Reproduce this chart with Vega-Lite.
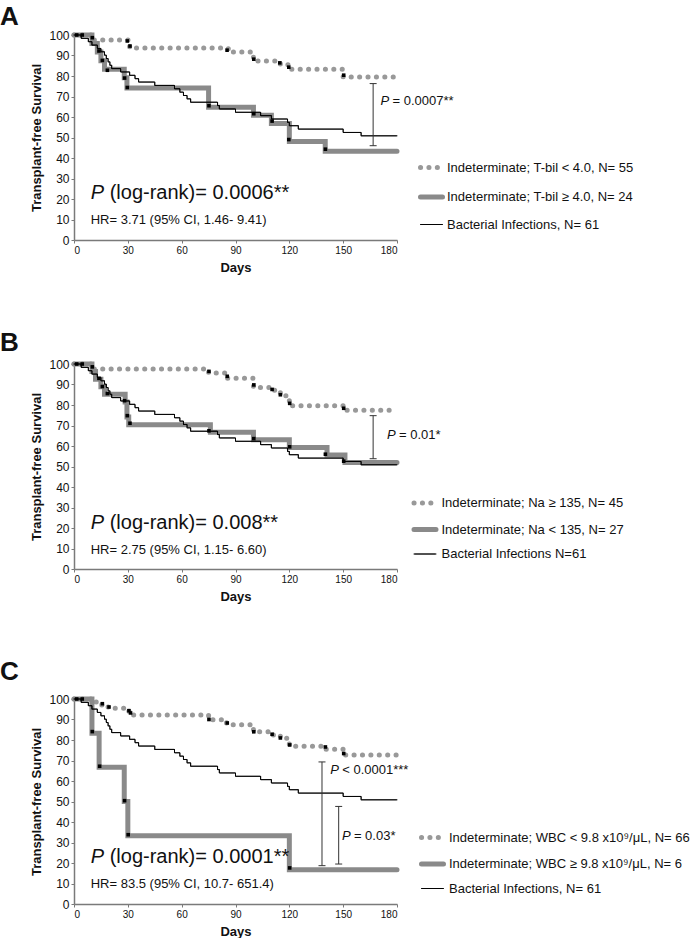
{
  "$schema": "https://vega.github.io/schema/vega-lite/v6.json",
  "padding": {"left": 0, "top": 4, "right": 0, "bottom": 0},
  "background": "white",
  "spacing": 56,
  "config": {
    "font": "Liberation Sans",
    "view": {"stroke": null},
    "axis": {"grid": false, "domainColor": "#7a7a7a", "domainWidth": 1.5, "tickColor": "#7a7a7a", "tickSize": 3, "tickWidth": 1, "labelColor": "#111", "labelFont": "Liberation Sans", "titleFont": "Liberation Sans", "titleFontWeight": "bold", "titleFontSize": 13, "titleColor": "#111", "labelPadding": 2, "labelOverlap": false},
    "axisX": {"labelFontSize": 10, "titlePadding": 6},
    "axisY": {"labelFontSize": 12, "titlePadding": 5, "labelOverlap": false, "labelFlush": false},
    "legend": {"labelFont": "Liberation Sans", "labelFontSize": 13, "labelColor": "#111", "symbolType": "stroke", "symbolSize": 484, "labelOffset": 2.5, "rowPadding": 2.5, "padding": 0, "labelLimit": 400},
    "title": {"font": "Liberation Sans", "fontSize": 26, "fontWeight": "bold", "color": "#111", "anchor": "start", "frame": "group"}
  },
  "datasets": {
    "curves": [
      {"panel": "A", "series": "Indeterminate; T-bil < 4.0, N= 55", "day": 0, "survival": 100},
      {"panel": "A", "series": "Indeterminate; T-bil < 4.0, N= 55", "day": 10, "survival": 97.6},
      {"panel": "A", "series": "Indeterminate; T-bil < 4.0, N= 55", "day": 31, "survival": 93.6},
      {"panel": "A", "series": "Indeterminate; T-bil < 4.0, N= 55", "day": 86, "survival": 91.7},
      {"panel": "A", "series": "Indeterminate; T-bil < 4.0, N= 55", "day": 100, "survival": 87.3},
      {"panel": "A", "series": "Indeterminate; T-bil < 4.0, N= 55", "day": 115, "survival": 85.5},
      {"panel": "A", "series": "Indeterminate; T-bil < 4.0, N= 55", "day": 120, "survival": 83.3},
      {"panel": "A", "series": "Indeterminate; T-bil < 4.0, N= 55", "day": 150, "survival": 79.5},
      {"panel": "A", "series": "Indeterminate; T-bil < 4.0, N= 55", "day": 180, "survival": 79.5},
      {"panel": "A", "series": "Indeterminate; T-bil ≥ 4.0, N= 24", "day": 0, "survival": 100},
      {"panel": "A", "series": "Indeterminate; T-bil ≥ 4.0, N= 24", "day": 10, "survival": 95.8},
      {"panel": "A", "series": "Indeterminate; T-bil ≥ 4.0, N= 24", "day": 13, "survival": 91.7},
      {"panel": "A", "series": "Indeterminate; T-bil ≥ 4.0, N= 24", "day": 15, "survival": 87.5},
      {"panel": "A", "series": "Indeterminate; T-bil ≥ 4.0, N= 24", "day": 17, "survival": 83.3},
      {"panel": "A", "series": "Indeterminate; T-bil ≥ 4.0, N= 24", "day": 28, "survival": 79.2},
      {"panel": "A", "series": "Indeterminate; T-bil ≥ 4.0, N= 24", "day": 29.5, "survival": 74.2},
      {"panel": "A", "series": "Indeterminate; T-bil ≥ 4.0, N= 24", "day": 75, "survival": 64.7},
      {"panel": "A", "series": "Indeterminate; T-bil ≥ 4.0, N= 24", "day": 100, "survival": 60.8},
      {"panel": "A", "series": "Indeterminate; T-bil ≥ 4.0, N= 24", "day": 110, "survival": 56.8},
      {"panel": "A", "series": "Indeterminate; T-bil ≥ 4.0, N= 24", "day": 120, "survival": 48.1},
      {"panel": "A", "series": "Indeterminate; T-bil ≥ 4.0, N= 24", "day": 140, "survival": 43.3},
      {"panel": "A", "series": "Indeterminate; T-bil ≥ 4.0, N= 24", "day": 180, "survival": 43.3},
      {"panel": "A", "series": "Bacterial Infections, N= 61", "day": 0, "survival": 100},
      {"panel": "A", "series": "Bacterial Infections, N= 61", "day": 4, "survival": 98.36},
      {"panel": "A", "series": "Bacterial Infections, N= 61", "day": 8, "survival": 96.72},
      {"panel": "A", "series": "Bacterial Infections, N= 61", "day": 10, "survival": 95.08},
      {"panel": "A", "series": "Bacterial Infections, N= 61", "day": 13, "survival": 93.44},
      {"panel": "A", "series": "Bacterial Infections, N= 61", "day": 15, "survival": 91.8},
      {"panel": "A", "series": "Bacterial Infections, N= 61", "day": 17, "survival": 90.16},
      {"panel": "A", "series": "Bacterial Infections, N= 61", "day": 18, "survival": 88.52},
      {"panel": "A", "series": "Bacterial Infections, N= 61", "day": 19, "survival": 86.89},
      {"panel": "A", "series": "Bacterial Infections, N= 61", "day": 20, "survival": 85.25},
      {"panel": "A", "series": "Bacterial Infections, N= 61", "day": 21, "survival": 83.61},
      {"panel": "A", "series": "Bacterial Infections, N= 61", "day": 26, "survival": 81.97},
      {"panel": "A", "series": "Bacterial Infections, N= 61", "day": 31, "survival": 80.33},
      {"panel": "A", "series": "Bacterial Infections, N= 61", "day": 34, "survival": 78.69},
      {"panel": "A", "series": "Bacterial Infections, N= 61", "day": 36, "survival": 77.05},
      {"panel": "A", "series": "Bacterial Infections, N= 61", "day": 45, "survival": 75.41},
      {"panel": "A", "series": "Bacterial Infections, N= 61", "day": 56, "survival": 73.77},
      {"panel": "A", "series": "Bacterial Infections, N= 61", "day": 59, "survival": 72.13},
      {"panel": "A", "series": "Bacterial Infections, N= 61", "day": 61, "survival": 70.49},
      {"panel": "A", "series": "Bacterial Infections, N= 61", "day": 63, "survival": 68.85},
      {"panel": "A", "series": "Bacterial Infections, N= 61", "day": 65, "survival": 67.21},
      {"panel": "A", "series": "Bacterial Infections, N= 61", "day": 80, "survival": 65.57},
      {"panel": "A", "series": "Bacterial Infections, N= 61", "day": 81, "survival": 63.93},
      {"panel": "A", "series": "Bacterial Infections, N= 61", "day": 90, "survival": 62.3},
      {"panel": "A", "series": "Bacterial Infections, N= 61", "day": 104, "survival": 60.66},
      {"panel": "A", "series": "Bacterial Infections, N= 61", "day": 110, "survival": 59.02},
      {"panel": "A", "series": "Bacterial Infections, N= 61", "day": 119, "survival": 57.38},
      {"panel": "A", "series": "Bacterial Infections, N= 61", "day": 120, "survival": 55.74},
      {"panel": "A", "series": "Bacterial Infections, N= 61", "day": 125, "survival": 54.1},
      {"panel": "A", "series": "Bacterial Infections, N= 61", "day": 150, "survival": 52.46},
      {"panel": "A", "series": "Bacterial Infections, N= 61", "day": 160, "survival": 50.82},
      {"panel": "A", "series": "Bacterial Infections, N= 61", "day": 180, "survival": 50.82},

      {"panel": "B", "series": "Indeterminate; Na ≥ 135, N= 45", "day": 0, "survival": 100},
      {"panel": "B", "series": "Indeterminate; Na ≥ 135, N= 45", "day": 10, "survival": 97.6},
      {"panel": "B", "series": "Indeterminate; Na ≥ 135, N= 45", "day": 75, "survival": 95.6},
      {"panel": "B", "series": "Indeterminate; Na ≥ 135, N= 45", "day": 85, "survival": 93.0},
      {"panel": "B", "series": "Indeterminate; Na ≥ 135, N= 45", "day": 100, "survival": 88.5},
      {"panel": "B", "series": "Indeterminate; Na ≥ 135, N= 45", "day": 110, "survival": 87.2},
      {"panel": "B", "series": "Indeterminate; Na ≥ 135, N= 45", "day": 115, "survival": 84.5},
      {"panel": "B", "series": "Indeterminate; Na ≥ 135, N= 45", "day": 120, "survival": 79.6},
      {"panel": "B", "series": "Indeterminate; Na ≥ 135, N= 45", "day": 150, "survival": 77.5},
      {"panel": "B", "series": "Indeterminate; Na ≥ 135, N= 45", "day": 180, "survival": 77.5},
      {"panel": "B", "series": "Indeterminate; Na < 135, N= 27", "day": 0, "survival": 100},
      {"panel": "B", "series": "Indeterminate; Na < 135, N= 27", "day": 10, "survival": 96.3},
      {"panel": "B", "series": "Indeterminate; Na < 135, N= 27", "day": 12, "survival": 92.6},
      {"panel": "B", "series": "Indeterminate; Na < 135, N= 27", "day": 15, "survival": 88.9},
      {"panel": "B", "series": "Indeterminate; Na < 135, N= 27", "day": 17, "survival": 85.2},
      {"panel": "B", "series": "Indeterminate; Na < 135, N= 27", "day": 28.5, "survival": 81.5},
      {"panel": "B", "series": "Indeterminate; Na < 135, N= 27", "day": 29.5, "survival": 74.1},
      {"panel": "B", "series": "Indeterminate; Na < 135, N= 27", "day": 30.5, "survival": 70.4},
      {"panel": "B", "series": "Indeterminate; Na < 135, N= 27", "day": 76, "survival": 66.7},
      {"panel": "B", "series": "Indeterminate; Na < 135, N= 27", "day": 100, "survival": 63.0},
      {"panel": "B", "series": "Indeterminate; Na < 135, N= 27", "day": 120, "survival": 59.3},
      {"panel": "B", "series": "Indeterminate; Na < 135, N= 27", "day": 141, "survival": 55.6},
      {"panel": "B", "series": "Indeterminate; Na < 135, N= 27", "day": 151, "survival": 51.9},
      {"panel": "B", "series": "Indeterminate; Na < 135, N= 27", "day": 180, "survival": 51.9},
      {"panel": "B", "series": "Bacterial Infections N=61", "day": 0, "survival": 100},
      {"panel": "B", "series": "Bacterial Infections N=61", "day": 4, "survival": 98.36},
      {"panel": "B", "series": "Bacterial Infections N=61", "day": 8, "survival": 96.72},
      {"panel": "B", "series": "Bacterial Infections N=61", "day": 10, "survival": 95.08},
      {"panel": "B", "series": "Bacterial Infections N=61", "day": 13, "survival": 93.44},
      {"panel": "B", "series": "Bacterial Infections N=61", "day": 15, "survival": 91.8},
      {"panel": "B", "series": "Bacterial Infections N=61", "day": 17, "survival": 90.16},
      {"panel": "B", "series": "Bacterial Infections N=61", "day": 18, "survival": 88.52},
      {"panel": "B", "series": "Bacterial Infections N=61", "day": 19, "survival": 86.89},
      {"panel": "B", "series": "Bacterial Infections N=61", "day": 20, "survival": 85.25},
      {"panel": "B", "series": "Bacterial Infections N=61", "day": 21, "survival": 83.61},
      {"panel": "B", "series": "Bacterial Infections N=61", "day": 26, "survival": 81.97},
      {"panel": "B", "series": "Bacterial Infections N=61", "day": 31, "survival": 80.33},
      {"panel": "B", "series": "Bacterial Infections N=61", "day": 34, "survival": 78.69},
      {"panel": "B", "series": "Bacterial Infections N=61", "day": 36, "survival": 77.05},
      {"panel": "B", "series": "Bacterial Infections N=61", "day": 45, "survival": 75.41},
      {"panel": "B", "series": "Bacterial Infections N=61", "day": 56, "survival": 73.77},
      {"panel": "B", "series": "Bacterial Infections N=61", "day": 59, "survival": 72.13},
      {"panel": "B", "series": "Bacterial Infections N=61", "day": 61, "survival": 70.49},
      {"panel": "B", "series": "Bacterial Infections N=61", "day": 63, "survival": 68.85},
      {"panel": "B", "series": "Bacterial Infections N=61", "day": 65, "survival": 67.21},
      {"panel": "B", "series": "Bacterial Infections N=61", "day": 80, "survival": 65.57},
      {"panel": "B", "series": "Bacterial Infections N=61", "day": 81, "survival": 63.93},
      {"panel": "B", "series": "Bacterial Infections N=61", "day": 90, "survival": 62.3},
      {"panel": "B", "series": "Bacterial Infections N=61", "day": 104, "survival": 60.66},
      {"panel": "B", "series": "Bacterial Infections N=61", "day": 110, "survival": 59.02},
      {"panel": "B", "series": "Bacterial Infections N=61", "day": 119, "survival": 57.38},
      {"panel": "B", "series": "Bacterial Infections N=61", "day": 120, "survival": 55.74},
      {"panel": "B", "series": "Bacterial Infections N=61", "day": 125, "survival": 54.1},
      {"panel": "B", "series": "Bacterial Infections N=61", "day": 150, "survival": 52.46},
      {"panel": "B", "series": "Bacterial Infections N=61", "day": 160, "survival": 50.82},
      {"panel": "B", "series": "Bacterial Infections N=61", "day": 180, "survival": 50.82},

      {"panel": "C", "series": "Indeterminate; WBC < 9.8 x10⁹/μL, N= 66", "day": 0, "survival": 100},
      {"panel": "C", "series": "Indeterminate; WBC < 9.8 x10⁹/μL, N= 66", "day": 10, "survival": 98.5},
      {"panel": "C", "series": "Indeterminate; WBC < 9.8 x10⁹/μL, N= 66", "day": 15.5, "survival": 97.0},
      {"panel": "C", "series": "Indeterminate; WBC < 9.8 x10⁹/μL, N= 66", "day": 19, "survival": 95.5},
      {"panel": "C", "series": "Indeterminate; WBC < 9.8 x10⁹/μL, N= 66", "day": 30.5, "survival": 94.0},
      {"panel": "C", "series": "Indeterminate; WBC < 9.8 x10⁹/μL, N= 66", "day": 31.5, "survival": 92.2},
      {"panel": "C", "series": "Indeterminate; WBC < 9.8 x10⁹/μL, N= 66", "day": 75, "survival": 89.9},
      {"panel": "C", "series": "Indeterminate; WBC < 9.8 x10⁹/μL, N= 66", "day": 85, "survival": 87.5},
      {"panel": "C", "series": "Indeterminate; WBC < 9.8 x10⁹/μL, N= 66", "day": 100, "survival": 84.0},
      {"panel": "C", "series": "Indeterminate; WBC < 9.8 x10⁹/μL, N= 66", "day": 110, "survival": 82.5},
      {"panel": "C", "series": "Indeterminate; WBC < 9.8 x10⁹/μL, N= 66", "day": 115, "survival": 80.8},
      {"panel": "C", "series": "Indeterminate; WBC < 9.8 x10⁹/μL, N= 66", "day": 120, "survival": 77.0},
      {"panel": "C", "series": "Indeterminate; WBC < 9.8 x10⁹/μL, N= 66", "day": 140, "survival": 75.5},
      {"panel": "C", "series": "Indeterminate; WBC < 9.8 x10⁹/μL, N= 66", "day": 150, "survival": 72.7},
      {"panel": "C", "series": "Indeterminate; WBC < 9.8 x10⁹/μL, N= 66", "day": 180, "survival": 72.7},
      {"panel": "C", "series": "Indeterminate; WBC ≥ 9.8 x10⁹/μL, N= 6", "day": 0, "survival": 100},
      {"panel": "C", "series": "Indeterminate; WBC ≥ 9.8 x10⁹/μL, N= 6", "day": 10, "survival": 83.3},
      {"panel": "C", "series": "Indeterminate; WBC ≥ 9.8 x10⁹/μL, N= 6", "day": 14, "survival": 66.7},
      {"panel": "C", "series": "Indeterminate; WBC ≥ 9.8 x10⁹/μL, N= 6", "day": 28, "survival": 50.0},
      {"panel": "C", "series": "Indeterminate; WBC ≥ 9.8 x10⁹/μL, N= 6", "day": 30, "survival": 33.3},
      {"panel": "C", "series": "Indeterminate; WBC ≥ 9.8 x10⁹/μL, N= 6", "day": 120, "survival": 16.7},
      {"panel": "C", "series": "Indeterminate; WBC ≥ 9.8 x10⁹/μL, N= 6", "day": 180, "survival": 16.7},
      {"panel": "C", "series": "Bacterial Infections, N= 61", "day": 0, "survival": 100},
      {"panel": "C", "series": "Bacterial Infections, N= 61", "day": 4, "survival": 98.36},
      {"panel": "C", "series": "Bacterial Infections, N= 61", "day": 8, "survival": 96.72},
      {"panel": "C", "series": "Bacterial Infections, N= 61", "day": 10, "survival": 95.08},
      {"panel": "C", "series": "Bacterial Infections, N= 61", "day": 13, "survival": 93.44},
      {"panel": "C", "series": "Bacterial Infections, N= 61", "day": 15, "survival": 91.8},
      {"panel": "C", "series": "Bacterial Infections, N= 61", "day": 17, "survival": 90.16},
      {"panel": "C", "series": "Bacterial Infections, N= 61", "day": 18, "survival": 88.52},
      {"panel": "C", "series": "Bacterial Infections, N= 61", "day": 19, "survival": 86.89},
      {"panel": "C", "series": "Bacterial Infections, N= 61", "day": 20, "survival": 85.25},
      {"panel": "C", "series": "Bacterial Infections, N= 61", "day": 21, "survival": 83.61},
      {"panel": "C", "series": "Bacterial Infections, N= 61", "day": 26, "survival": 81.97},
      {"panel": "C", "series": "Bacterial Infections, N= 61", "day": 31, "survival": 80.33},
      {"panel": "C", "series": "Bacterial Infections, N= 61", "day": 34, "survival": 78.69},
      {"panel": "C", "series": "Bacterial Infections, N= 61", "day": 36, "survival": 77.05},
      {"panel": "C", "series": "Bacterial Infections, N= 61", "day": 45, "survival": 75.41},
      {"panel": "C", "series": "Bacterial Infections, N= 61", "day": 56, "survival": 73.77},
      {"panel": "C", "series": "Bacterial Infections, N= 61", "day": 59, "survival": 72.13},
      {"panel": "C", "series": "Bacterial Infections, N= 61", "day": 61, "survival": 70.49},
      {"panel": "C", "series": "Bacterial Infections, N= 61", "day": 63, "survival": 68.85},
      {"panel": "C", "series": "Bacterial Infections, N= 61", "day": 65, "survival": 67.21},
      {"panel": "C", "series": "Bacterial Infections, N= 61", "day": 80, "survival": 65.57},
      {"panel": "C", "series": "Bacterial Infections, N= 61", "day": 81, "survival": 63.93},
      {"panel": "C", "series": "Bacterial Infections, N= 61", "day": 90, "survival": 62.3},
      {"panel": "C", "series": "Bacterial Infections, N= 61", "day": 104, "survival": 60.66},
      {"panel": "C", "series": "Bacterial Infections, N= 61", "day": 110, "survival": 59.02},
      {"panel": "C", "series": "Bacterial Infections, N= 61", "day": 119, "survival": 57.38},
      {"panel": "C", "series": "Bacterial Infections, N= 61", "day": 120, "survival": 55.74},
      {"panel": "C", "series": "Bacterial Infections, N= 61", "day": 125, "survival": 54.1},
      {"panel": "C", "series": "Bacterial Infections, N= 61", "day": 150, "survival": 52.46},
      {"panel": "C", "series": "Bacterial Infections, N= 61", "day": 160, "survival": 50.82},
      {"panel": "C", "series": "Bacterial Infections, N= 61", "day": 180, "survival": 50.82}
    ],
    "censored": [
      {"panel": "A", "day": 1.5, "survival": 100}, {"panel": "A", "day": 4.6, "survival": 100}, {"panel": "A", "day": 10.2, "survival": 98.7},
      {"panel": "A", "day": 13.9, "survival": 92.2}, {"panel": "A", "day": 15.8, "survival": 87.6}, {"panel": "A", "day": 18.6, "survival": 82.8},
      {"panel": "A", "day": 28.2, "survival": 79.0}, {"panel": "A", "day": 29.7, "survival": 74.4}, {"panel": "A", "day": 29.7, "survival": 97.1},
      {"panel": "A", "day": 31.2, "survival": 94.6}, {"panel": "A", "day": 85.3, "survival": 92.6}, {"panel": "A", "day": 75.2, "survival": 65.5},
      {"panel": "A", "day": 100.2, "survival": 88.2}, {"panel": "A", "day": 100.2, "survival": 61.6}, {"panel": "A", "day": 110.4, "survival": 58.0},
      {"panel": "A", "day": 114.7, "survival": 86.4}, {"panel": "A", "day": 119.7, "survival": 84.3}, {"panel": "A", "day": 119.7, "survival": 49.0},
      {"panel": "A", "day": 140.1, "survival": 44.3}, {"panel": "A", "day": 150.3, "survival": 80.4},
      {"panel": "B", "day": 1.5, "survival": 100}, {"panel": "B", "day": 4.6, "survival": 100}, {"panel": "B", "day": 10.2, "survival": 98.6},
      {"panel": "B", "day": 13.9, "survival": 93.0}, {"panel": "B", "day": 15.8, "survival": 89.0}, {"panel": "B", "day": 18.6, "survival": 85.6},
      {"panel": "B", "day": 28.2, "survival": 82.1}, {"panel": "B", "day": 29.7, "survival": 74.8}, {"panel": "B", "day": 31.2, "survival": 71.1},
      {"panel": "B", "day": 75.2, "survival": 96.4}, {"panel": "B", "day": 85.4, "survival": 94.0}, {"panel": "B", "day": 100.2, "survival": 89.8},
      {"panel": "B", "day": 110.4, "survival": 87.6}, {"panel": "B", "day": 115.0, "survival": 85.0}, {"panel": "B", "day": 120.2, "survival": 80.8},
      {"panel": "B", "day": 150.3, "survival": 78.4}, {"panel": "B", "day": 75.2, "survival": 67.4}, {"panel": "B", "day": 100.2, "survival": 63.6},
      {"panel": "B", "day": 120.2, "survival": 59.6}, {"panel": "B", "day": 140.1, "survival": 56.0}, {"panel": "B", "day": 150.3, "survival": 52.6},
      {"panel": "C", "day": 1.5, "survival": 100}, {"panel": "C", "day": 4.6, "survival": 100}, {"panel": "C", "day": 15.8, "survival": 97.7},
      {"panel": "C", "day": 19.5, "survival": 96.1}, {"panel": "C", "day": 30.6, "survival": 94.3}, {"panel": "C", "day": 31.5, "survival": 93.2},
      {"panel": "C", "day": 75.2, "survival": 90.0}, {"panel": "C", "day": 85.4, "survival": 88.3}, {"panel": "C", "day": 100.2, "survival": 84.0},
      {"panel": "C", "day": 110.4, "survival": 82.8}, {"panel": "C", "day": 115.0, "survival": 81.0}, {"panel": "C", "day": 120.2, "survival": 77.6},
      {"panel": "C", "day": 140.1, "survival": 76.6}, {"panel": "C", "day": 150.3, "survival": 73.4},
      {"panel": "C", "day": 10.2, "survival": 84.1}, {"panel": "C", "day": 14.3, "survival": 67.2}, {"panel": "C", "day": 28.2, "survival": 50.4},
      {"panel": "C", "day": 30.2, "survival": 33.8}, {"panel": "C", "day": 120.2, "survival": 17.6}
    ],
    "comparisons": [
      {"panel": "A", "day": 166.7, "lower": 46.0, "upper": 76.3},
      {"panel": "B", "day": 166.7, "lower": 53.8, "upper": 74.8},
      {"panel": "C", "day": 138.2, "lower": 18.7, "upper": 69.3},
      {"panel": "C", "day": 147.5, "lower": 19.5, "upper": 47.6}
    ]
  },
  "resolve": {"scale": {"color": "independent", "strokeDash": "independent", "strokeWidth": "independent"}, "legend": {"color": "independent", "strokeDash": "independent", "strokeWidth": "independent"}},
  "vconcat": [
    {
      "title": {"text": "A", "dx": -74, "offset": -5.3},
      "width": 323, "height": 205,
      "layer": [
        {"data": {"name": "curves"}, "transform": [{"filter": "datum.panel == 'A'"}],
         "mark": {"type": "line", "interpolate": "step-after", "strokeCap": "round"},
         "encoding": {
           "x": {"field": "day", "type": "quantitative", "scale": {"domain": [0, 180], "nice": false}, "axis": {"values": [0, 30, 60, 90, 120, 150, 180], "title": "Days"}},
           "y": {"field": "survival", "type": "quantitative", "scale": {"domain": [0, 100], "nice": false}, "axis": {"values": [0, 10, 20, 30, 40, 50, 60, 70, 80, 90, 100], "tickCount": 11, "labelOverlap": false, "title": "Transplant-free Survival"}},
           "color": {"field": "series", "type": "nominal", "scale": {"domain": ["Indeterminate; T-bil < 4.0, N= 55", "Indeterminate; T-bil ≥ 4.0, N= 24", "Bacterial Infections, N= 61"], "range": ["#999999", "#8a8a8a", "#000000"]},
             "legend": {"title": null, "orient": "none", "legendX": 344, "legendY": 119, "rowPadding": 5.5, "labelOffset": 2, "encode": {"symbols": {"update": {"strokeCap": {"value": "round"}}}}}},
           "strokeDash": {"field": "series", "type": "nominal", "scale": {"domain": ["Indeterminate; T-bil < 4.0, N= 55", "Indeterminate; T-bil ≥ 4.0, N= 24", "Bacterial Infections, N= 61"], "range": [[0.1, 8.3], [1, 0], [1, 0]]},
             "legend": {"title": null, "orient": "none", "legendX": 344, "legendY": 119, "rowPadding": 5.5, "labelOffset": 2, "encode": {"symbols": {"update": {"strokeCap": {"value": "round"}}}}}},
           "strokeWidth": {"field": "series", "type": "nominal", "scale": {"type": "ordinal", "domain": ["Indeterminate; T-bil < 4.0, N= 55", "Indeterminate; T-bil ≥ 4.0, N= 24", "Bacterial Infections, N= 61"], "range": [5, 5, 1]},
             "legend": {"title": null, "orient": "none", "legendX": 344, "legendY": 119, "rowPadding": 5.5, "labelOffset": 2, "encode": {"symbols": {"update": {"strokeCap": {"value": "round"}}}}}}
         }},
        {"data": {"name": "censored"}, "transform": [{"filter": "datum.panel == 'A'"}],
         "mark": {"type": "point", "shape": "square", "filled": true, "color": "#000", "size": 13, "opacity": 1},
         "encoding": {"x": {"field": "day", "type": "quantitative"}, "y": {"field": "survival", "type": "quantitative"}}},
        {"data": {"name": "comparisons"}, "transform": [{"filter": "datum.panel == 'A'"}],
         "mark": {"type": "rule", "color": "#333", "strokeWidth": 1},
         "encoding": {"x": {"field": "day", "type": "quantitative"}, "y": {"field": "lower", "type": "quantitative"}, "y2": {"field": "upper"}}},
        {"data": {"name": "comparisons"}, "transform": [{"filter": "datum.panel == 'A'"}],
         "mark": {"type": "tick", "orient": "horizontal", "color": "#333", "size": 7, "thickness": 1, "opacity": 1},
         "encoding": {"x": {"field": "day", "type": "quantitative"}, "y": {"field": "lower", "type": "quantitative"}}},
        {"data": {"name": "comparisons"}, "transform": [{"filter": "datum.panel == 'A'"}],
         "mark": {"type": "tick", "orient": "horizontal", "color": "#333", "size": 7, "thickness": 1, "opacity": 1},
         "encoding": {"x": {"field": "day", "type": "quantitative"}, "y": {"field": "upper", "type": "quantitative"}}},
        {"data": {"values": [{}]}, "mark": {"type": "text", "text": "P", "fontStyle": "italic", "fontSize": 13, "align": "left", "baseline": "middle", "color": "#111"},
         "encoding": {"x": {"datum": 170.8, "type": "quantitative"}, "y": {"datum": 67.7, "type": "quantitative"}}},
        {"data": {"values": [{}]}, "mark": {"type": "text", "text": "= 0.0007**", "fontSize": 13, "align": "left", "baseline": "middle", "color": "#111", "dx": 12},
         "encoding": {"x": {"datum": 170.8, "type": "quantitative"}, "y": {"datum": 67.7, "type": "quantitative"}}},
        {"data": {"values": [{}]}, "mark": {"type": "text", "text": "P", "fontStyle": "italic", "fontSize": 20, "align": "left", "baseline": "middle", "color": "#111"},
         "encoding": {"x": {"datum": 9.3, "type": "quantitative"}, "y": {"datum": 22.9, "type": "quantitative"}}},
        {"data": {"values": [{}]}, "mark": {"type": "text", "text": "(log-rank)= 0.0006**", "fontSize": 20, "align": "left", "baseline": "middle", "color": "#111", "dx": 19},
         "encoding": {"x": {"datum": 9.3, "type": "quantitative"}, "y": {"datum": 22.9, "type": "quantitative"}}},
        {"data": {"values": [{}]}, "mark": {"type": "text", "text": "HR= 3.71 (95% CI, 1.46- 9.41)", "fontSize": 13, "align": "left", "baseline": "middle", "color": "#111"},
         "encoding": {"x": {"datum": 9.3, "type": "quantitative"}, "y": {"datum": 9.9, "type": "quantitative"}}}
      ]
    },
    {
      "title": {"text": "B", "dx": -74, "offset": -2},
      "width": 323, "height": 205,
      "layer": [
        {"data": {"name": "curves"}, "transform": [{"filter": "datum.panel == 'B'"}],
         "mark": {"type": "line", "interpolate": "step-after", "strokeCap": "round"},
         "encoding": {
           "x": {"field": "day", "type": "quantitative", "scale": {"domain": [0, 180], "nice": false}, "axis": {"values": [0, 30, 60, 90, 120, 150, 180], "title": "Days"}},
           "y": {"field": "survival", "type": "quantitative", "scale": {"domain": [0, 100], "nice": false}, "axis": {"values": [0, 10, 20, 30, 40, 50, 60, 70, 80, 90, 100], "tickCount": 11, "labelOverlap": false, "title": "Transplant-free Survival"}},
           "color": {"field": "series", "type": "nominal", "scale": {"domain": ["Indeterminate; Na ≥ 135, N= 45", "Indeterminate; Na < 135, N= 27", "Bacterial Infections N=61"], "range": ["#999999", "#8a8a8a", "#000000"]},
             "legend": {"title": null, "orient": "none", "legendX": 337.5, "legendY": 125.5, "rowPadding": 2.5, "labelOffset": 3, "encode": {"symbols": {"update": {"strokeCap": {"value": "round"}}}}}},
           "strokeDash": {"field": "series", "type": "nominal", "scale": {"domain": ["Indeterminate; Na ≥ 135, N= 45", "Indeterminate; Na < 135, N= 27", "Bacterial Infections N=61"], "range": [[0.1, 8.3], [1, 0], [1, 0]]},
             "legend": {"title": null, "orient": "none", "legendX": 337.5, "legendY": 125.5, "rowPadding": 2.5, "labelOffset": 3, "encode": {"symbols": {"update": {"strokeCap": {"value": "round"}}}}}},
           "strokeWidth": {"field": "series", "type": "nominal", "scale": {"type": "ordinal", "domain": ["Indeterminate; Na ≥ 135, N= 45", "Indeterminate; Na < 135, N= 27", "Bacterial Infections N=61"], "range": [5, 5, 1]},
             "legend": {"title": null, "orient": "none", "legendX": 337.5, "legendY": 125.5, "rowPadding": 2.5, "labelOffset": 3, "encode": {"symbols": {"update": {"strokeCap": {"value": "round"}}}}}}
         }},
        {"data": {"name": "censored"}, "transform": [{"filter": "datum.panel == 'B'"}],
         "mark": {"type": "point", "shape": "square", "filled": true, "color": "#000", "size": 13, "opacity": 1},
         "encoding": {"x": {"field": "day", "type": "quantitative"}, "y": {"field": "survival", "type": "quantitative"}}},
        {"data": {"name": "comparisons"}, "transform": [{"filter": "datum.panel == 'B'"}],
         "mark": {"type": "rule", "color": "#333", "strokeWidth": 1},
         "encoding": {"x": {"field": "day", "type": "quantitative"}, "y": {"field": "lower", "type": "quantitative"}, "y2": {"field": "upper"}}},
        {"data": {"name": "comparisons"}, "transform": [{"filter": "datum.panel == 'B'"}],
         "mark": {"type": "tick", "orient": "horizontal", "color": "#333", "size": 7, "thickness": 1, "opacity": 1},
         "encoding": {"x": {"field": "day", "type": "quantitative"}, "y": {"field": "lower", "type": "quantitative"}}},
        {"data": {"name": "comparisons"}, "transform": [{"filter": "datum.panel == 'B'"}],
         "mark": {"type": "tick", "orient": "horizontal", "color": "#333", "size": 7, "thickness": 1, "opacity": 1},
         "encoding": {"x": {"field": "day", "type": "quantitative"}, "y": {"field": "upper", "type": "quantitative"}}},
        {"data": {"values": [{}]}, "mark": {"type": "text", "text": "P", "fontStyle": "italic", "fontSize": 13, "align": "left", "baseline": "middle", "color": "#111"},
         "encoding": {"x": {"datum": 174.4, "type": "quantitative"}, "y": {"datum": 65.4, "type": "quantitative"}}},
        {"data": {"values": [{}]}, "mark": {"type": "text", "text": "= 0.01*", "fontSize": 13, "align": "left", "baseline": "middle", "color": "#111", "dx": 12},
         "encoding": {"x": {"datum": 174.4, "type": "quantitative"}, "y": {"datum": 65.4, "type": "quantitative"}}},
        {"data": {"values": [{}]}, "mark": {"type": "text", "text": "P", "fontStyle": "italic", "fontSize": 20, "align": "left", "baseline": "middle", "color": "#111"},
         "encoding": {"x": {"datum": 9.3, "type": "quantitative"}, "y": {"datum": 22.4, "type": "quantitative"}}},
        {"data": {"values": [{}]}, "mark": {"type": "text", "text": "(log-rank)= 0.008**", "fontSize": 20, "align": "left", "baseline": "middle", "color": "#111", "dx": 19},
         "encoding": {"x": {"datum": 9.3, "type": "quantitative"}, "y": {"datum": 22.4, "type": "quantitative"}}},
        {"data": {"values": [{}]}, "mark": {"type": "text", "text": "HR= 2.75 (95% CI, 1.15- 6.60)", "fontSize": 13, "align": "left", "baseline": "middle", "color": "#111"},
         "encoding": {"x": {"datum": 9.3, "type": "quantitative"}, "y": {"datum": 9.5, "type": "quantitative"}}}
      ]
    },
    {
      "title": {"text": "C", "dx": -74, "offset": 3.6},
      "width": 323, "height": 205,
      "layer": [
        {"data": {"name": "curves"}, "transform": [{"filter": "datum.panel == 'C'"}],
         "mark": {"type": "line", "interpolate": "step-after", "strokeCap": "round"},
         "encoding": {
           "x": {"field": "day", "type": "quantitative", "scale": {"domain": [0, 180], "nice": false}, "axis": {"values": [0, 30, 60, 90, 120, 150, 180], "title": "Days"}},
           "y": {"field": "survival", "type": "quantitative", "scale": {"domain": [0, 100], "nice": false}, "axis": {"values": [0, 10, 20, 30, 40, 50, 60, 70, 80, 90, 100], "tickCount": 11, "labelOverlap": false, "title": "Transplant-free Survival"}},
           "color": {"field": "series", "type": "nominal", "scale": {"domain": ["Indeterminate; WBC < 9.8 x10⁹/μL, N= 66", "Indeterminate; WBC ≥ 9.8 x10⁹/μL, N= 6", "Bacterial Infections, N= 61"], "range": ["#999999", "#8a8a8a", "#000000"]},
             "legend": {"title": null, "orient": "none", "legendX": 345, "legendY": 125, "rowPadding": 2.5, "labelOffset": 3, "encode": {"symbols": {"update": {"strokeCap": {"value": "round"}}}}}},
           "strokeDash": {"field": "series", "type": "nominal", "scale": {"domain": ["Indeterminate; WBC < 9.8 x10⁹/μL, N= 66", "Indeterminate; WBC ≥ 9.8 x10⁹/μL, N= 6", "Bacterial Infections, N= 61"], "range": [[0.1, 8.3], [1, 0], [1, 0]]},
             "legend": {"title": null, "orient": "none", "legendX": 345, "legendY": 125, "rowPadding": 2.5, "labelOffset": 3, "encode": {"symbols": {"update": {"strokeCap": {"value": "round"}}}}}},
           "strokeWidth": {"field": "series", "type": "nominal", "scale": {"type": "ordinal", "domain": ["Indeterminate; WBC < 9.8 x10⁹/μL, N= 66", "Indeterminate; WBC ≥ 9.8 x10⁹/μL, N= 6", "Bacterial Infections, N= 61"], "range": [5, 5, 1]},
             "legend": {"title": null, "orient": "none", "legendX": 345, "legendY": 125, "rowPadding": 2.5, "labelOffset": 3, "encode": {"symbols": {"update": {"strokeCap": {"value": "round"}}}}}}
         }},
        {"data": {"name": "censored"}, "transform": [{"filter": "datum.panel == 'C'"}],
         "mark": {"type": "point", "shape": "square", "filled": true, "color": "#000", "size": 13, "opacity": 1},
         "encoding": {"x": {"field": "day", "type": "quantitative"}, "y": {"field": "survival", "type": "quantitative"}}},
        {"data": {"name": "comparisons"}, "transform": [{"filter": "datum.panel == 'C'"}],
         "mark": {"type": "rule", "color": "#333", "strokeWidth": 1},
         "encoding": {"x": {"field": "day", "type": "quantitative"}, "y": {"field": "lower", "type": "quantitative"}, "y2": {"field": "upper"}}},
        {"data": {"name": "comparisons"}, "transform": [{"filter": "datum.panel == 'C'"}],
         "mark": {"type": "tick", "orient": "horizontal", "color": "#333", "size": 7, "thickness": 1, "opacity": 1},
         "encoding": {"x": {"field": "day", "type": "quantitative"}, "y": {"field": "lower", "type": "quantitative"}}},
        {"data": {"name": "comparisons"}, "transform": [{"filter": "datum.panel == 'C'"}],
         "mark": {"type": "tick", "orient": "horizontal", "color": "#333", "size": 7, "thickness": 1, "opacity": 1},
         "encoding": {"x": {"field": "day", "type": "quantitative"}, "y": {"field": "upper", "type": "quantitative"}}},
        {"data": {"values": [{}]}, "mark": {"type": "text", "text": "P", "fontStyle": "italic", "fontSize": 13, "align": "left", "baseline": "middle", "color": "#111"},
         "encoding": {"x": {"datum": 142.8, "type": "quantitative"}, "y": {"datum": 65.2, "type": "quantitative"}}},
        {"data": {"values": [{}]}, "mark": {"type": "text", "text": "< 0.0001***", "fontSize": 13, "align": "left", "baseline": "middle", "color": "#111", "dx": 12},
         "encoding": {"x": {"datum": 142.8, "type": "quantitative"}, "y": {"datum": 65.2, "type": "quantitative"}}},
        {"data": {"values": [{}]}, "mark": {"type": "text", "text": "P", "fontStyle": "italic", "fontSize": 13, "align": "left", "baseline": "middle", "color": "#111"},
         "encoding": {"x": {"datum": 149.3, "type": "quantitative"}, "y": {"datum": 33.0, "type": "quantitative"}}},
        {"data": {"values": [{}]}, "mark": {"type": "text", "text": "= 0.03*", "fontSize": 13, "align": "left", "baseline": "middle", "color": "#111", "dx": 12},
         "encoding": {"x": {"datum": 149.3, "type": "quantitative"}, "y": {"datum": 33.0, "type": "quantitative"}}},
        {"data": {"values": [{}]}, "mark": {"type": "text", "text": "P", "fontStyle": "italic", "fontSize": 20, "align": "left", "baseline": "middle", "color": "#111"},
         "encoding": {"x": {"datum": 9.3, "type": "quantitative"}, "y": {"datum": 22.9, "type": "quantitative"}}},
        {"data": {"values": [{}]}, "mark": {"type": "text", "text": "(log-rank)= 0.0001**", "fontSize": 20, "align": "left", "baseline": "middle", "color": "#111", "dx": 19},
         "encoding": {"x": {"datum": 9.3, "type": "quantitative"}, "y": {"datum": 22.9, "type": "quantitative"}}},
        {"data": {"values": [{}]}, "mark": {"type": "text", "text": "HR= 83.5 (95% CI, 10.7- 651.4)", "fontSize": 13, "align": "left", "baseline": "middle", "color": "#111"},
         "encoding": {"x": {"datum": 9.3, "type": "quantitative"}, "y": {"datum": 9.9, "type": "quantitative"}}}
      ]
    }
  ]
}
